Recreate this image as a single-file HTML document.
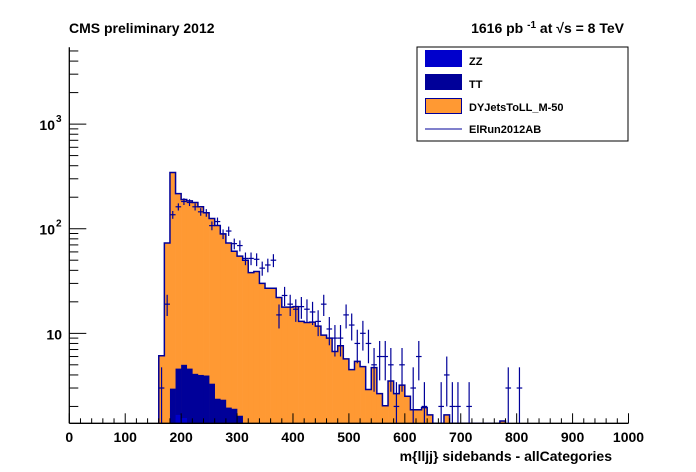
<!DOCTYPE html>
<html><head><meta charset="utf-8">
<style>
body{margin:0;background:#fff;}
svg{display:block;font-family:"Liberation Sans",Arial,sans-serif;}
</style></head>
<body>
<svg id="c" width="696" height="472" viewBox="0 0 696 472">
<text x="69" y="33" font-size="14" font-weight="bold">CMS preliminary 2012</text>
<text x="624" y="33" font-size="14" font-weight="bold" text-anchor="end">1616 pb <tspan dy="-5" font-size="10">-1</tspan><tspan dy="5"> at √s = 8 TeV</tspan></text>
<g id="plot"></g>
<g id="axes"></g>
<text x="612" y="461" font-size="14" font-weight="bold" text-anchor="end">m{lljj} sidebands - allCategories</text>
<g>
<rect x="417" y="47" width="211" height="94" fill="#fff" stroke="#000" stroke-width="1"/>
<g><rect x="425" y="50" width="37" height="17" fill="#0000cc"/><text x="469" y="65" font-size="11" font-weight="bold">ZZ</text></g>
<g><rect x="425" y="74" width="37" height="16" fill="#000099"/><text x="469" y="88" font-size="11" font-weight="bold">TT</text></g>
<g><rect x="425.5" y="98.5" width="36" height="15" fill="#ff9933" stroke="#000099"/><text x="469" y="111" font-size="11" font-weight="bold">DYJetsToLL_M-50</text></g>
<g><line x1="425" y1="129" x2="462" y2="129" stroke="#000099" stroke-width="1"/><text x="469" y="133" font-size="11" font-weight="bold">ElRun2012AB</text></g>
</g>
</svg>
<script>
// ---- data (bin width 10, bins start at binStart) ----
const binStart = 160;
const binWidth = 10;
const zzValues = [0,0,0,1.66,1.55];
const ttValues = [0,0,2.96,2.94,3.45,4.6,4.1,4.0,3.95,3.3,2.37,2.32,1.95,1.9,1.63];
const dyValues = [6.1,73,342,212,185,180,174,158,138,122,105,87,71,59,53,50,38,39,30,27,27,22,17.8,17.8,18,13,12.7,12.8,11.7,9.6,9,6.7,7.6,5.7,4.5,5.4,4.8,2.9,4.7,2.65,2.03,3.5,2.65,3.2,2.5,1.86,1.86,1.95,1.66,0,0,1.66,0,0,0,0,0,0,0,0,0,1.45];
const dataCounts = [3,19,136,162,182,178,162,145,142,107,117,89,95,72,69,52,52,51,42,45,50,15,23,19,17,18,17,16,13,19,11,9,9,15,12,8,10,8,5,6,6,5,2,5,0,3,6,2,0,0,2,4,2,2,0,2,0,0,0,0,0,0,3,0,3];
const xTicks = [0,100,200,300,400,500,600,700,800,900,1000];
const yTickLabels = [[10,"10"],[100,"10","2"],[1000,"10","3"]];

const X0=69.3,X1=628.5,Y0=423.3,YT=47.3;
const xmin=0,xmax=1000,ymin=1.38,ymax=5420;
const xs=v=>X0+(v-xmin)/(xmax-xmin)*(X1-X0);
const ys=v=>{v=Math.max(v,ymin);return Y0-(Math.log10(v)-Math.log10(ymin))/(Math.log10(ymax)-Math.log10(ymin))*(Y0-YT);};
const NS="http://www.w3.org/2000/svg";
function mk(tag,attrs,parent){const e=document.createElementNS(NS,tag);for(const k in attrs)e.setAttribute(k,attrs[k]);parent.appendChild(e);return e;}
const plot=document.getElementById('plot'), axes=document.getElementById('axes');
mk('rect',{x:X0,y:YT,width:X1-X0,height:Y0-YT,fill:'#fff'},plot);

const n=dyValues.length;
const zzS=[],ttS=[],totS=[];
for(let i=0;i<n;i++){const z=zzValues[i]||0,t=ttValues[i]||0;zzS.push(z);ttS.push(z+t);totS.push(z+t+dyValues[i]);}
function drawLayer(arr,fill,name){
  for(let i=0;i<arr.length;i++){ if(arr[i]<=ymin) continue;
    const x=xs(binStart+i*binWidth), x2=xs(binStart+(i+1)*binWidth), y=ys(arr[i]);
    const r=mk('rect',{x:x,y:y,width:x2-x+0.3,height:Y0-y,fill:fill},plot);
    
    
  }
}
drawLayer(totS,'#ff9933','dy-bar');
drawLayer(ttS,'#000099','tt-bar');
drawLayer(zzS,'#0000cc','zz-bar');
// outline of stack
let d='';
for(let i=0;i<n;i++){const x=xs(binStart+i*binWidth),x2=xs(binStart+(i+1)*binWidth),y=ys(totS[i]);d+=(i?'L':'M')+x+','+(i?y:Y0)+(i?'':'L'+x+','+y)+'L'+x2+','+y;}
d+='L'+xs(binStart+n*binWidth)+','+Y0;
const ol=mk('path',{d:d,fill:'none',stroke:'#000099','stroke-width':1.5},plot);


// data points
for(let i=0;i<dataCounts.length;i++){const c=dataCounts[i]; if(c<=0) continue;
  const cx=xs(binStart+(i+0.5)*binWidth), x=xs(binStart+i*binWidth), x2=xs(binStart+(i+1)*binWidth), e=Math.sqrt(c);
  const g=mk('g',{stroke:'#000099','stroke-width':1.2},plot);
  
  
  mk('line',{x1:x,x2:x2,y1:ys(c),y2:ys(c)},g);
  mk('line',{x1:cx,x2:cx,y1:ys(c+e),y2:ys(c-e)},g);
}
// axes
mk('line',{x1:X0,y1:Y0,x2:X1,y2:Y0,stroke:'#000','stroke-width':1.3},axes);
mk('line',{x1:X0,y1:Y0,x2:X0,y2:YT,stroke:'#000','stroke-width':1.3},axes);
for(let v=0;v<=1000;v+=20){const x=xs(v);const maj=v%100===0;mk('line',{x1:x,x2:x,y1:Y0,y2:Y0-(maj?10:5),stroke:'#000'},axes);}
xTicks.forEach(v=>{const t=mk('text',{x:xs(v),y:442,'font-size':14,'font-weight':'bold','text-anchor':'middle'},axes);t.textContent=v;
  
  });
for(let dec=1;dec<=1000;dec*=10){for(let m=1;m<10;m++){const v=dec*m;if(v<ymin||v>ymax)continue;const y=ys(v);mk('line',{x1:X0,x2:X0+(m===1?17:9),y1:y,y2:y,stroke:'#000'},axes);}}
yTickLabels.forEach(l=>{const y=ys(l[0]);const t=mk('text',{x:l[2]?55:62,y:y+6,'font-size':14,'font-weight':'bold','text-anchor':'end'},axes);t.textContent=l[1];
  
  
  if(l[2]){const s=mk('text',{x:56,y:y-2,'font-size':10,'font-weight':'bold'},axes);s.textContent=l[2];}});
</script>
</body></html>
